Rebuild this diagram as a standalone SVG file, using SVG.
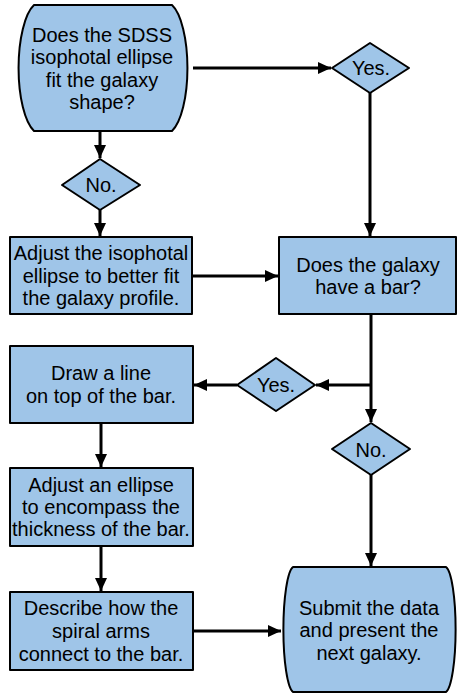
<svg xmlns="http://www.w3.org/2000/svg" width="458" height="693" viewBox="0 0 458 693">
<style>
.n{fill:#9fc5e8;stroke:#000;stroke-width:2;stroke-linejoin:round}
.t{font-family:"Liberation Sans",Arial,sans-serif;font-size:20px;fill:#000;text-anchor:middle}
.c{fill:none;stroke:#000;stroke-width:3}
</style>
<defs>
<marker id="ah" markerUnits="userSpaceOnUse" markerWidth="13" markerHeight="12" refX="13" refY="6" orient="auto"><path d="M0,0 L13,6 L0,12 Z" fill="#000"/></marker>
</defs>
<g id="connectors">
<path class="c" d="M193,68 H331" marker-end="url(#ah)"/>
<path class="c" d="M370,93 V236" marker-end="url(#ah)"/>
<path class="c" d="M100,132 V158" marker-end="url(#ah)"/>
<path class="c" d="M100,210 V236" marker-end="url(#ah)"/>
<path class="c" d="M192,276 H278" marker-end="url(#ah)"/>
<path class="c" d="M371,314 V422" marker-end="url(#ah)"/>
<path class="c" d="M372,385 H316" marker-end="url(#ah)"/>
<path class="c" d="M237,385 H194" marker-end="url(#ah)"/>
<path class="c" d="M101,423 V467" marker-end="url(#ah)"/>
<path class="c" d="M101,546 V591" marker-end="url(#ah)"/>
<path class="c" d="M371,475 V566" marker-end="url(#ah)"/>
<path class="c" d="M193,631 H281" marker-end="url(#ah)"/>
</g>
<g id="start">
<path class="n" d="M34,5 H172 A22,66 0 0 1 172,131 H34 A22,66 0 0 1 34,5 Z"/>
<text class="t" x="102" y="42">Does the SDSS</text>
<text class="t" x="102" y="64">isophotal ellipse</text>
<text class="t" x="102" y="87">fit the galaxy</text>
<text class="t" x="102" y="109">shape?</text>
</g>
<g id="yes1">
<polygon class="n" points="332,68 370,43 409,68 370,93"/>
<text class="t" x="371" y="75">Yes.</text>
</g>
<g id="no1">
<polygon class="n" points="62,185 100,159 140,185 100,210"/>
<text class="t" x="101" y="192">No.</text>
</g>
<g id="adjust-isophotal">
<rect class="n" x="10" y="237" width="182" height="77"/>
<text class="t" x="101" y="260">Adjust the isophotal</text>
<text class="t" x="101" y="283">ellipse to better fit</text>
<text class="t" x="101" y="305">the galaxy profile.</text>
</g>
<g id="bar-question">
<rect class="n" x="279" y="237" width="177" height="77"/>
<text class="t" x="368" y="272">Does the galaxy</text>
<text class="t" x="368" y="294">have a bar?</text>
</g>
<g id="yes2">
<polygon class="n" points="237,385 276,358 315,385 276,411"/>
<text class="t" x="276" y="392">Yes.</text>
</g>
<g id="no2">
<polygon class="n" points="332,449 371,423 410,449 371,475"/>
<text class="t" x="371" y="457">No.</text>
</g>
<g id="draw-line">
<rect class="n" x="10" y="346" width="183" height="77"/>
<text class="t" x="101" y="380">Draw a line</text>
<text class="t" x="101" y="403">on top of the bar.</text>
</g>
<g id="adjust-ellipse">
<rect class="n" x="10" y="468" width="183" height="78"/>
<text class="t" x="101" y="492">Adjust an ellipse</text>
<text class="t" x="101" y="514">to encompass the</text>
<text class="t" x="101" y="536">thickness of the bar.</text>
</g>
<g id="describe">
<rect class="n" x="10" y="592" width="183" height="78"/>
<text class="t" x="101" y="615">Describe how the</text>
<text class="t" x="101" y="638">spiral arms</text>
<text class="t" x="101" y="661">connect to the bar.</text>
</g>
<g id="submit">
<path class="n" d="M293,567 H446 A11,63 0 0 1 446,692 H293 A11,63 0 0 1 293,567 Z"/>
<text class="t" x="369" y="615">Submit the data</text>
<text class="t" x="369" y="637">and present the</text>
<text class="t" x="369" y="660">next galaxy.</text>
</g>
</svg>
